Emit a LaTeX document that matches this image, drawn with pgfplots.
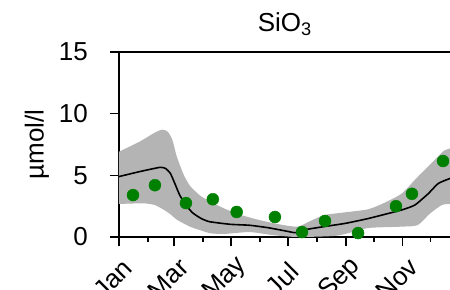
\documentclass[border=0pt]{standalone}
\usepackage{pgfplots}
\pgfplotsset{compat=1.18}
\usepackage{fontspec}
\setmainfont{Liberation Sans}
\definecolor{band}{RGB}{180,180,180}
\definecolor{ptgreen}{RGB}{0,128,0}
\newcommand{\bigf}{\fontsize{26bp}{31bp}\selectfont}
\begin{document}
\bigf
\begin{tikzpicture}[x=1bp,y=1bp,font=\bigf]
\begin{axis}[
  at={(0,0)}, anchor=south west,
  scale only axis, width=331.5bp, height=185bp,
  xmin=0, xmax=355, ymin=0, ymax=15,
  clip=true,
  axis line style={line width=1.2bp},
  xtick={0,59,120,181,243,304},
  xticklabels={Jan,Mar,May,Jul,Sep,Nov},
  minor xtick={31,90,151,212,273,334},
  ytick={0,5,10,15},
  xtick pos=left, ytick pos=left,
  tick align=outside,
  major tick length=9bp, minor tick length=4.5bp,
  tick style={black, line width=1.2bp},
  /pgf/number format/assume math mode=true,
  tick label style={font=\bigf},
  xticklabel shift=33bp,
  xticklabel style={anchor=center, inner sep=0pt, rotate=45, xshift=-4.2bp, yshift=4.2bp},
  yticklabel style={anchor=east, inner sep=0pt, xshift=-22bp},
  title={SiO\textsubscript{3}},
  every axis title/.style={at={(axis description cs:0.5,1)}, anchor=base, yshift=21bp, font=\bigf},
  ylabel={µmol/l},
  every axis y label/.style={at={(axis description cs:-0.2477,0.5)}, anchor=center, rotate=90, font=\bigf},
]
\addplot[fill=band, draw=none, smooth, tension=0.4] coordinates {
 (-12,6.6) (0,6.92) (22,7.73) (38,8.45) (46,8.7) (52,8.55) (57,7.9) (62,6.5) (69,5.1) (76,4.15)
 (87,3.35) (98,2.86) (113,2.3) (130,1.8) (149,1.4) (170,1.05) (191,0.84) (205,1.3)
 (220,1.78) (242,2.0) (267,2.25) (285,2.8) (303,3.54) (320,4.89) (338,6.24) (348,7.0) (356,7.2) (368,7.4)
 (368,2.68) (356,2.68) (346,2.6) (333,1.9) (320,0.97) (303,0.84) (267,0.73) (245,0.3) (230,0.08)
 (191,0.0) (165,0.15) (140,0.4) (113,0.25) (98,0.3) (87,0.55) (76,0.84) (62,1.4)
 (55,1.85) (47,2.25) (38,2.6) (26,2.73) (0,2.68) (-12,2.68)
} -- cycle;
\addplot[black, line width=1.6bp, smooth, tension=0.3] coordinates {
 (0,4.9) (22,5.3) (44,5.65) (50,5.55) (55,5.16) (60,4.3) (65,3.4) (72,2.55) (79,1.95)
 (88,1.5) (97,1.24) (119,1.03) (140,0.95) (160,0.75) (181,0.45) (189,0.35) (200,0.6)
 (220,0.85) (242,1.1) (267,1.5) (303,2.2) (317,2.6) (331,3.5) (342,4.35) (355,4.76)
};
\addplot[only marks, mark=*, mark size=6bp, ptgreen, mark options={draw=ptgreen, fill=ptgreen}] coordinates {
 (15,3.4) (38.5,4.2) (71.7,2.75) (100.5,3.06) (126,2.03) (167,1.62) (196,0.4)
 (220.6,1.3) (256,0.32) (296.6,2.5) (313.7,3.5) (347,6.16)
};
\end{axis}
\pgfresetboundingbox
\path (-119bp,-53bp) rectangle (331bp,237bp);
\end{tikzpicture}
\end{document}
